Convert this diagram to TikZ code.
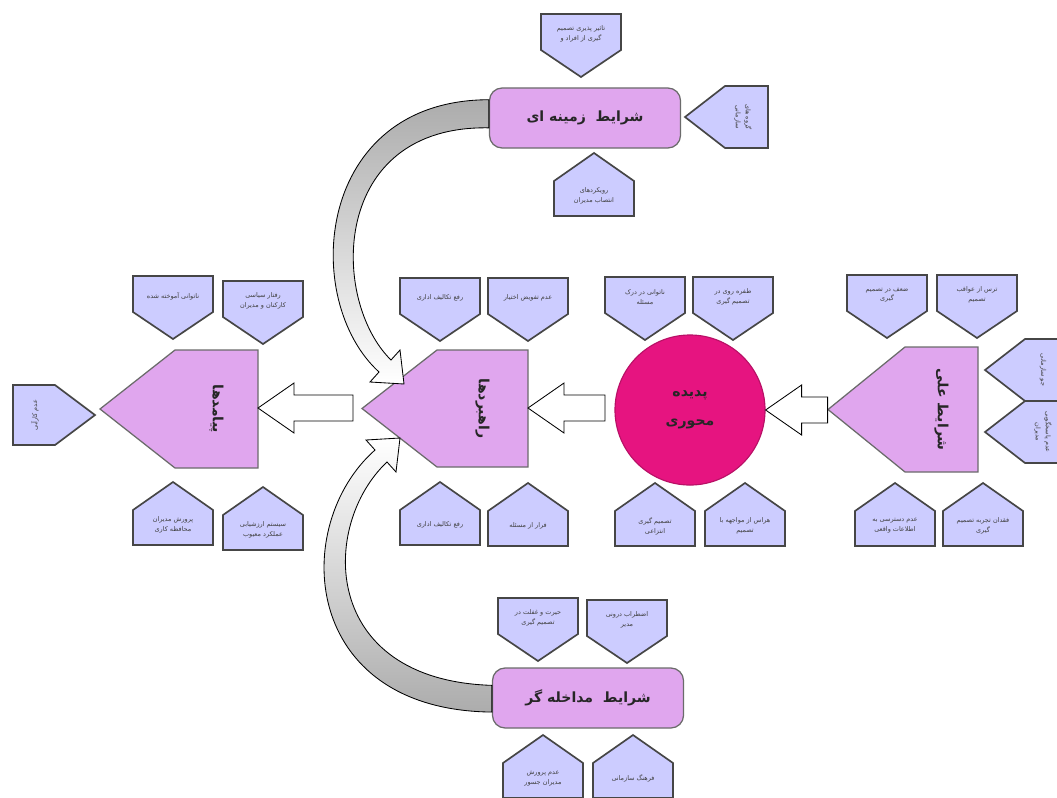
\documentclass[tikz,border=0pt]{standalone}
\usepackage{fontspec}
\newfontfamily\farsi[Script=Arabic]{DejaVu Sans}
\TeXXeTstate=1
\usepackage{xcolor}
\definecolor{lav}{RGB}{204,204,255}
\definecolor{orch}{RGB}{224,166,238}
\definecolor{mag}{RGB}{230,20,128}
\definecolor{edge}{RGB}{70,70,70}
\newcommand{\fa}[1]{{\farsi\beginR #1\endR}}
\tikzset{
  item/.style={fill=lav, draw=edge, line width=1.2pt},
  itemtext/.style={font=\fontsize{4.6}{7}\selectfont, text=black!75, align=center},
  big/.style={fill=orch, draw=edge!80, line width=0.9pt},
  bigtext/.style={font=\fontsize{10}{12}\selectfont\bfseries, text=black!85, align=center},
  hollow/.style={fill=white, draw=black, line width=0.6pt},
  curved/.style={draw=black, line width=0.6pt}
}

\begin{document}
\begin{tikzpicture}[x=0.025cm,y=-0.025cm]
  \useasboundingbox (0,0) rectangle (1057,797);

  % boxes pointing down
  \foreach \n/\cx/\ty/\t in {
    ctxa/581/14/{\fa{تاثیر پذیری تصمیم}\\\fa{گیری از افراد و}},
    outa/173/276/{\fa{ناتوانی آموخته شده}},
    outb/263/281/{\fa{رفتار سیاسی}\\\fa{کارکنان و مدیران}},
    stra/440/278/{\fa{رفع تکالیف اداری}},
    strb/528/278/{\fa{عدم تفویض اختیار}},
    cora/645/277/{\fa{ناتوانی در درک}\\\fa{مسئله}},
    corb/733/277/{\fa{طفره روی در}\\\fa{تصمیم گیری}},
    caua/887/275/{\fa{ضعف در تصمیم}\\\fa{گیری}},
    caub/977/275/{\fa{ترس از عواقب}\\\fa{تصمیم}},
    inta/538/598/{\fa{حیرت و غفلت در}\\\fa{تصمیم گیری}},
    intb/627/600/{\fa{اضطراب درونی}\\\fa{مدیر}}}{
    \draw[item] (\cx-40,\ty) -- (\cx+40,\ty) -- (\cx+40,\ty+36) -- (\cx,\ty+63) -- (\cx-40,\ty+36) -- cycle;
    \node[itemtext] (\n) at (\cx,\ty+20) {\t};
  }

  % boxes pointing up
  \foreach \n/\cx/\ty/\t in {
    ctxb/594/153/{\fa{رویکردهای}\\\fa{انتصاب مدیران}},
    outc/173/482/{\fa{پرورش مدیران}\\\fa{محافظه کاری}},
    outd/263/487/{\fa{سیستم ارزشیابی}\\\fa{عملکرد معیوب}},
    strc/440/482/{\fa{رفع تکالیف اداری}},
    strd/528/483/{\fa{فرار از مسئله}},
    corc/655/483/{\fa{تصمیم گیری}\\\fa{انتزاعی}},
    cord/745/483/{\fa{هراس از مواجهه با}\\\fa{تصمیم}},
    cauc/895/483/{\fa{عدم دسترسی به}\\\fa{اطلاعات واقعی}},
    caud/983/483/{\fa{فقدان تجربه تصمیم}\\\fa{گیری}},
    intc/543/735/{\fa{عدم پرورش}\\\fa{مدیران جسور}},
    intd/633/735/{\fa{فرهنگ سازمانی}}}{
    \draw[item] (\cx,\ty) -- (\cx+40,\ty+28) -- (\cx+40,\ty+63) -- (\cx-40,\ty+63) -- (\cx-40,\ty+28) -- cycle;
    \node[itemtext] (\n) at (\cx,\ty+43) {\t};
  }

  % boxes pointing left
  \foreach \n/\tx/\ty/\t in {
    ctxc/685/117/{\fa{گروه های}\\\fa{سازمانی}},
    caue/985/370/{\fa{جو سازمانی}},
    cauf/985/432/{\fa{عدم پاسخگویی}\\\fa{مدیران}}}{
    \draw[item] (\tx,\ty) -- (\tx+40,\ty-31) -- (\tx+83,\ty-31) -- (\tx+83,\ty+31) -- (\tx+40,\ty+31) -- cycle;
    \node[itemtext, rotate=-90] (\n) at (\tx+58,\ty) {\t};
  }

  % box pointing right
  \draw[item] (95,415) -- (55,385) -- (13,385) -- (13,445) -- (55,445) -- cycle;
  \node[itemtext, rotate=90] (oute) at (35,415) {\fa{عدم کارآیی}};

  % big pentagons
  \foreach \n/\tx/\sx/\rx/\ya/\yb/\t in {
    out/100/175/258/350/468/{\fa{پیامدها}},
    str/362/437/528/350/467/{\fa{راهبردها}},
    cau/828/905/978/347/472/{\fa{شرایط علی}}}{
    \draw[big] (\tx,{(\ya+\yb)/2}) -- (\sx,\ya) -- (\rx,\ya) -- (\rx,\yb) -- (\sx,\yb) -- cycle;
    \node[bigtext, rotate=-90] (\n) at ({(\sx+\rx)/2},{(\ya+\yb)/2}) {\t};
    \coordinate (\n R) at (\rx,408);
  }

  \node[circle, fill=mag, draw=mag!80!black, line width=0.8pt, minimum size=3.75cm, bigtext] (core) at (690,410) {\fa{پدیده}\\[9pt]\fa{محوری}};

  \node[big, rounded corners=9pt, minimum width=4.775cm, minimum height=1.5cm, bigtext] (ctx) at (585,118) {\fa{شرایط\ \ زمینه ای}};
  \node[big, rounded corners=9pt, minimum width=4.775cm, minimum height=1.5cm, bigtext] (int) at (588,698) {\fa{شرایط\ \ مداخله گر}};

  % hollow arrows
  \foreach \p/\s in {core.east/26, strR/41, outR/59}{
    \draw[hollow] (\p) -- ++(36,-25) -- ++(0,12) -- ++(\s,0) -- ++(0,26) -- ++(-\s,0) -- ++(0,12) -- cycle;
  }

  % curved arrows
  \draw[curved, top color=gray!65, bottom color=white] ([yshift=13pt]ctx.west) .. controls (315,100) and (300,300) .. (379,372)
    -- (370,382) -- (404,384) -- (400,350) -- (391,360) .. controls (330,300) and (330,125) .. ([yshift=-7pt]ctx.west) -- cycle;
  \draw[curved, bottom color=gray!65, top color=white] ([yshift=-10pt]int.west) .. controls (300,710) and (290,525) .. (375,450)
    -- (366,440) -- (400,438) -- (396,472) -- (387,462) .. controls (320,525) and (320,680) .. ([yshift=9pt]int.west) -- cycle;
\end{tikzpicture}
\end{document}
